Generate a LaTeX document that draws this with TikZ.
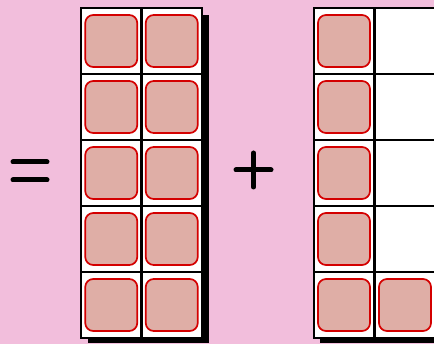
\documentclass[tikz,border=0pt]{standalone}
\usetikzlibrary{positioning}
\definecolor{bgpink}{HTML}{F2BEDC}
\definecolor{counterfill}{HTML}{DFAEA6}
\definecolor{counterred}{HTML}{D40000}
\tikzset{
  cellbox/.style={draw=black, line width=2.2pt, minimum width=60.5pt, minimum height=66pt, inner sep=0pt, outer sep=0pt},
  counter/.style={draw=counterred, line width=1.7pt, fill=counterfill, rounded corners=8pt, minimum size=52pt, inner sep=0pt},
  sign/.style={line width=5pt, line cap=round}
}
\begin{document}
\begin{tikzpicture}[x=1pt,y=-1pt]
    \fill[bgpink] (0,0) rectangle (434,344);
    \clip (0,0) rectangle (434,344);
    % equals sign
    \draw[sign] (13,162) -- (47,162);
    \draw[sign] (13,180) -- (47,180);
    % first frame: full ten
    \fill[black] (88,15) rectangle (209,343);
    \fill[white] (81,8) rectangle (202,338);
    \foreach \r in {1,...,5} {
        \foreach \c in {1,2} {
            \node[cellbox] (a\r\c) at ({81+60.5*(\c-0.5)},{8+66*(\r-0.5)}) {};
            \node[counter] (ca\r\c) at (a\r\c) {};
        }
    }
    % plus sign
    \draw[sign] (236,170) -- (271,170);
    \draw[sign] (253.5,153) -- (253.5,187);
    % second frame: six
    \fill[black] (320,15) rectangle (441,343);
    \fill[white] (313.5,8) rectangle (435.5,338);
    \foreach \r in {1,...,5} {
        \foreach \c in {1,2} {
            \node[cellbox] (b\r\c) at ({313.5+61*(\c-0.5)},{8+66*(\r-0.5)}) {};
        }
        \node[counter] (cb\r1) at (b\r1) {};
    }
    \node[counter] (cb52) at (b52) {};
\end{tikzpicture}
\end{document}
